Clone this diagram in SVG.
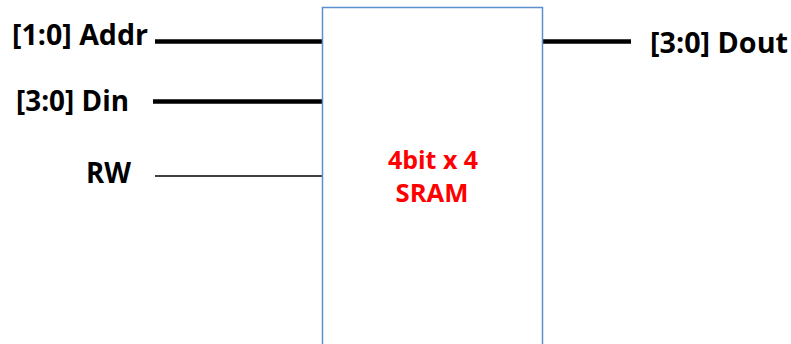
<svg xmlns="http://www.w3.org/2000/svg" width="791" height="344" viewBox="0 0 791 344">
<style>
.lbl{font-family:"Open Sans","Noto Sans","Liberation Sans",sans-serif;font-weight:bold;font-size:28px;fill:#000}
.ctr{font-family:"Open Sans","Noto Sans","Liberation Sans",sans-serif;font-weight:bold;font-size:25px;fill:#ff0000}
.bus{stroke:#000;stroke-width:4.5;fill:none}
.wire{stroke:#000;stroke-width:1.5;fill:none}
</style>
<rect width="791" height="344" fill="#fff"/>
<g id="connectors">
<line class="bus" x1="155" y1="41.5" x2="322" y2="41.5"/>
<line class="bus" x1="153" y1="101.5" x2="322" y2="101.5"/>
<line class="wire" x1="155" y1="176" x2="322" y2="176"/>
<line class="bus" x1="543" y1="41.5" x2="631" y2="41.5"/>
</g>
<g id="sram">
<rect x="322.5" y="7.5" width="220" height="345" fill="#fff" stroke="#5b8fd0" stroke-width="1.5"/>
<text class="ctr" x="433" y="169" text-anchor="middle" textLength="90" lengthAdjust="spacingAndGlyphs">4bit x 4</text>
<text class="ctr" x="432" y="202" text-anchor="middle" textLength="73" lengthAdjust="spacingAndGlyphs">SRAM</text>
</g>
<g id="addr"><text class="lbl" x="12" y="45" textLength="136" lengthAdjust="spacingAndGlyphs">[1:0] Addr</text></g>
<g id="din"><text class="lbl" x="16" y="111" textLength="113" lengthAdjust="spacingAndGlyphs">[3:0] Din</text></g>
<g id="rw"><text class="lbl" x="86" y="183" textLength="45" lengthAdjust="spacingAndGlyphs">RW</text></g>
<g id="dout"><text class="lbl" x="650" y="53" textLength="138" lengthAdjust="spacingAndGlyphs">[3:0] Dout</text></g>
</svg>
